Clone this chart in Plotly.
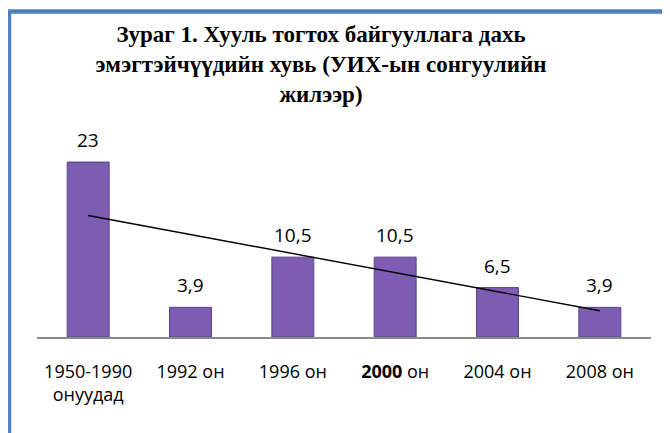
import numpy as np
import plotly.graph_objects as go

# ---- data ----
categories = ["1950-1990 онуудад", "1992 он", "1996 он", "2000 он", "2004 он", "2008 он"]
tick_labels = ["1950-1990<br>онуудад", "1992 он", "1996 он", "<b>2000</b> он", "2004 он", "2008 он"]
values = [23, 3.9, 10.5, 10.5, 6.5, 3.9]
value_labels = ["23", "3,9", "10,5", "10,5", "6,5", "3,9"]
title_text = ("<b>Зураг 1. Хууль тогтох байгууллага дахь<br>"
              "эмэгтэйчүүдийн хувь (УИХ-ын сонгуулийн<br>жилээр)</b>")

# linear trend line computed from the data
xi = np.arange(1, len(values) + 1)
slope, intercept = np.polyfit(xi, values, 1)
trend_y = [slope * xi[0] + intercept, slope * xi[-1] + intercept]

fig = go.Figure()
fig.add_trace(go.Bar(
    x=categories, y=values,
    marker=dict(color="#7D5CB3", line=dict(color="#5A4485", width=1)),
    width=0.41,
    hoverinfo="skip",
))
fig.add_trace(go.Scatter(
    x=[categories[0], categories[-1]], y=trend_y,
    mode="lines", line=dict(color="black", width=1.4),
    hoverinfo="skip",
))

for c, v, t in zip(categories, values, value_labels):
    fig.add_annotation(x=c, y=v, text=t, showarrow=False,
                       yanchor="bottom", yshift=7,
                       font=dict(family="Open Sans", size=19, color="black"))

# page offset (body margin) compensation: everything placed 8px up/left
L, T, PW, PH = 29, 132, 614, 197

def px_x(x):
    return (x - 8 - L) / PW

def px_y(y):
    return (T + PH - (y - 8)) / PH

border = "#4F81BD"
fig.add_shape(type="rect", xref="paper", yref="paper",
              x0=px_x(9), x1=px_x(720), y0=px_y(11.5), y1=px_y(480),
              line=dict(color=border, width=4.5), fillcolor="rgba(0,0,0,0)")

fig.update_layout(
    width=670, height=433,
    margin=dict(l=L, r=670 - L - PW, t=T, b=433 - T - PH),
    paper_bgcolor="white", plot_bgcolor="white",
    showlegend=False,
    title=dict(text=title_text, x=(321 - 8) / 670, xref="container", xanchor="center",
               y=1 - 34 / 433, yref="container", yanchor="top",
               font=dict(family="Liberation Serif", size=23, color="black")),
    xaxis=dict(
        type="category", tickvals=categories, ticktext=tick_labels,
        showline=True, linecolor="#898989", linewidth=2,
        ticks="", showgrid=False,
        tickfont=dict(family="Open Sans", size=18, color="black"),
        ticklabelstandoff=17,
    ),
    yaxis=dict(range=[0, 25.9], visible=False, showgrid=False, zeroline=False),
    font=dict(family="Open Sans"),
)

fig.write_html("out.html")
